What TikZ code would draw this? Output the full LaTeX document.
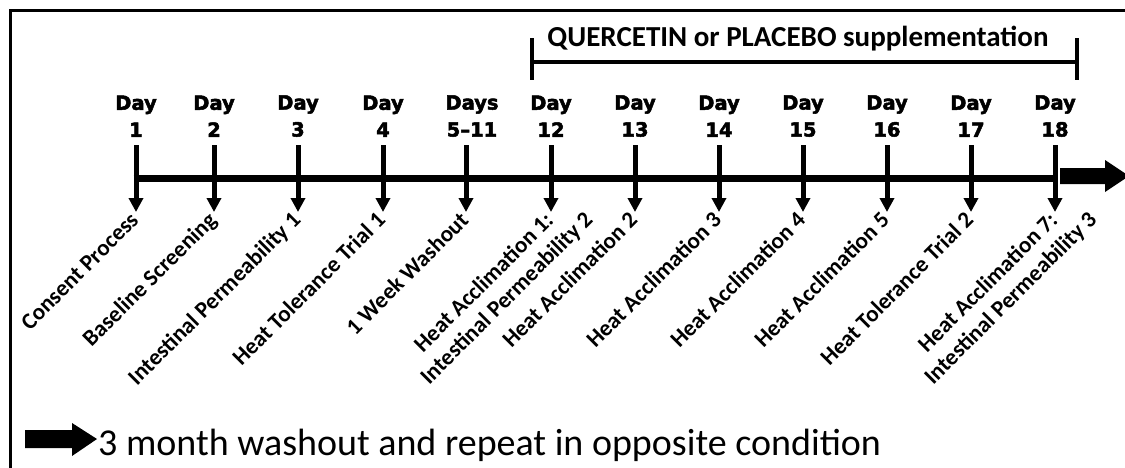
\documentclass[tikz,border=0pt]{standalone}
\usepackage{fontspec}
\setmainfont{Carlito}
\newfontface\dayface{DejaVu Sans Bold}[FakeBold=2.5]
\usetikzlibrary{arrows.meta}
\begin{document}
\begin{tikzpicture}[x=1pt,y=-1pt,
  daylbl/.style={font=\dayface\fontsize{19.5}{27}\selectfont, align=center, inner sep=0pt, anchor=south},
  act/.style={font=\bfseries\fontsize{23}{26}\selectfont, rotate=45, inner sep=0.5pt, text height=18pt, text depth=7pt, anchor=north east},
  act2/.style={font=\bfseries\fontsize{23}{26}\selectfont, rotate=45, inner sep=0.5pt, text height=18pt, text depth=7pt, anchor=north},
  tickarrow/.style={line width=5pt, -{Triangle[width=14pt,length=14pt]}},
  timeline/.style={line width=7pt},
  bracketline/.style={line width=4.5pt},
  bigarrow/.style={fill=black}
]
\clip (0,0) rectangle (1125,467);
\useasboundingbox (0,0) rectangle (1125,467);
\fill[white] (0,0) rectangle (1125,467);
\draw[line width=3pt] (10,10) rectangle (1140,480);

% supplementation bracket
\coordinate (bl) at (532,62);
\coordinate (br) at (1077,62);
\draw[bracketline] (bl) -- (br);
\draw[bracketline] ([yshift=24pt]bl) -- ([yshift=-18pt]bl);
\draw[bracketline] ([yshift=24pt]br) -- ([yshift=-18pt]br);
\node[font=\bfseries\fontsize{29}{34}\selectfont, anchor=base, inner sep=0pt] (supp) at (798,46) {QUERCETIN or PLACEBO supplementation};

% day labels
\node[daylbl] (d1)  at (136,137)  {Day\\1};
\node[daylbl] (d2)  at (214,137)  {Day\\2};
\node[daylbl] (d3)  at (298,137)  {Day\\3};
\node[daylbl] (d4)  at (383,137)  {Day\\4};
\node[daylbl] (d5)  at (472,137)  {Days\\5–11};
\node[daylbl] (d6)  at (551,137)  {Day\\12};
\node[daylbl] (d7)  at (635,137)  {Day\\13};
\node[daylbl] (d8)  at (719,137)  {Day\\14};
\node[daylbl] (d9)  at (803,137)  {Day\\15};
\node[daylbl] (d10) at (887,137)  {Day\\16};
\node[daylbl] (d11) at (971,137)  {Day\\17};
\node[daylbl] (d12) at (1055,137) {Day\\18};

% arrow tips
\coordinate (t1)  at (136,212);
\coordinate (t2)  at (214,212);
\coordinate (t3)  at (298,212);
\coordinate (t4)  at (383,212);
\coordinate (t5)  at (466,212);
\coordinate (t6)  at (551,212);
\coordinate (t7)  at (635,212);
\coordinate (t8)  at (719,212);
\coordinate (t9)  at (803,212);
\coordinate (t10) at (887,212);
\coordinate (t11) at (971,212);
\coordinate (t12) at (1055,212);

% timeline
\coordinate (tlA) at (133.5,178.5);
\coordinate (tlB) at (1055,178.5);
\draw[timeline] (tlA) -- (tlB);

\foreach \i in {1,...,12}{
  \draw[tickarrow] ([yshift=-8pt]d\i.south -| t\i) -- (t\i);
}

% continuation arrow
\fill[bigarrow] (1060,168) -- (1105,168) -- (1105,160) -- (1129,176) -- (1105,192) -- (1105,184) -- (1060,184) -- cycle;

% activity labels
\node[act] (a1)  at ([shift={(-9,-4)}]t1)  {Consent Process};
\node[act] (a2)  at ([shift={(-9,-4)}]t2)  {Baseline Screening};
\node[act] (a3)  at ([shift={(-9,-4)}]t3)  {Intestinal Permeability 1};
\node[act] (a4)  at ([shift={(-9,-4)}]t4)  {Heat Tolerance Trial 1};
\node[act] (a5)  at ([shift={(-9,-4)}]t5)  {1 Week Washout};
\node[act] (a6)  at ([shift={(-9,-4)}]t6)  {Heat Acclimation 1:};
\node[act2] (a6b) at ([shift={(4,-3)}]a6.south) {Intestinal Permeability 2};
\node[act] (a7)  at ([shift={(-9,-4)}]t7)  {Heat Acclimation 2};
\node[act] (a8)  at ([shift={(-9,-4)}]t8)  {Heat Acclimation 3};
\node[act] (a9)  at ([shift={(-9,-4)}]t9)  {Heat Acclimation 4};
\node[act] (a10) at ([shift={(-9,-4)}]t10) {Heat Acclimation 5};
\node[act] (a11) at ([shift={(-9,-4)}]t11) {Heat Tolerance Trial 2};
\node[act] (a12) at ([shift={(-9,-4)}]t12) {Heat Acclimation 7:};
\node[act2] (a12b) at ([shift={(4,-3)}]a12.south) {Intestinal Permeability 3};

% legend
\fill[bigarrow] (25,430) -- (72,430) -- (72,423) -- (97,439) -- (72,456) -- (72,448) -- (25,448) -- cycle;
\node[font=\fontsize{38}{44}\selectfont, anchor=base west, inner sep=0pt] (legend) at (98,455) {3 month washout and repeat in opposite condition};
\end{tikzpicture}
\end{document}
